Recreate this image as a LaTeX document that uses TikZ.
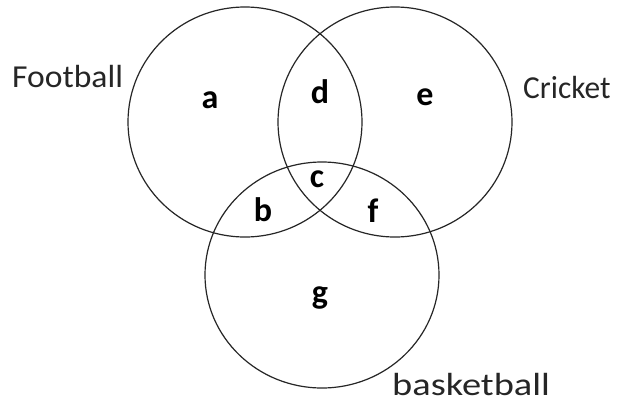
\documentclass[tikz,border=0pt]{standalone}
\usepackage{graphicx}
\usepackage{fontspec}
\setmainfont{Carlito}
\begin{document}
\begin{tikzpicture}[x=1pt,y=-1pt,
  setcircle/.style={draw=black!85,line width=1.2pt},
  setname/.style={inner sep=0pt,anchor=base west,font=\fontsize{32}{38}\selectfont,text=black!85},
  region/.style={inner sep=0pt,anchor=base,font=\fontsize{34}{40}\selectfont\bfseries}]
\useasboundingbox[fill=white] (0,0) rectangle (619,402);
\draw[setcircle] (245,122) ellipse [x radius=117, y radius=115];
\draw[setcircle] (395,122) ellipse [x radius=117, y radius=115];
\draw[setcircle] (322,275) ellipse [x radius=117, y radius=113];
\node[setname] (fb) at (12,87) {\scalebox{1.05}[1]{Football}};
\node[setname] (cr) at (523,98) {\scalebox{0.98}[1]{Cricket}};
\node[setname] (bb) at (392,395) {\scalebox{1.2}[1]{basketball}};
\node[region] (a) at (210,108) {a};
\node[region] (d) at (320,103) {d};
\node[region] (e) at (425,105) {e};
\node[region] (c) at (317,187) {c};
\node[region] (b) at (263,221) {b};
\node[region] (f) at (373,222) {f};
\node[region] (g) at (320,303) {g};
\end{tikzpicture}
\end{document}
